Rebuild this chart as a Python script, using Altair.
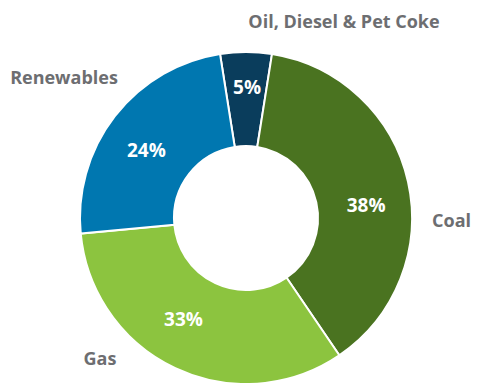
import math
import altair as alt
import pandas as pd

categories = ["Oil, Diesel & Pet Coke", "Coal", "Gas", "Renewables"]
shares = [5, 38, 33, 24]
pct_labels = ["5%", "38%", "33%", "24%"]
colors = ["#0a3d5c", "#4a7320", "#8cc43f", "#0077b0"]

df = pd.DataFrame({
    "category": categories,
    "share": shares,
    "label": pct_labels,
    "idx": list(range(len(categories))),
})

start = -0.157
theta_scale = alt.Scale(domain=[0, 100], range=[start, start + 2 * math.pi])
cx, cy = 238, 210

arcs = alt.Chart(df).mark_arc(innerRadius=72, outerRadius=166, stroke="white", strokeWidth=2,
                              x=cx, y=cy).encode(
    theta=alt.Theta("share:Q", stack=True, scale=theta_scale),
    order=alt.Order("idx:Q"),
    color=alt.Color("category:N", scale=alt.Scale(domain=categories, range=colors), legend=None),
)

# label nudges (dx, dy) per slice, to follow the reference placement
nudges = [(1, -9), (2, 14), (-11, -7), (-4, 7)]
pct_layers = [
    alt.Chart(df)
    .transform_window(cum="sum(share)", sort=[alt.SortField("idx")])
    .transform_calculate(mid="datum.cum - datum.share / 2")
    .transform_filter(alt.datum.idx == i)
    .mark_text(radius=121, x=cx, y=cy, dx=ndx, dy=ndy, font="Open Sans", fontWeight="bold",
               fontSize=19, color="white", baseline="middle", align="center")
    .encode(theta=alt.Theta("mid:Q", scale=theta_scale, stack=None), text="label:N")
    for i, (ndx, ndy) in enumerate(nudges)
]

gray = "#6d6e71"
annot_specs = [
    ("Oil, Diesel & Pet Coke", 336, 15, "center"),
    ("Renewables", 56, 71, "center"),
    ("Coal", 463, 214, "right"),
    ("Gas", 92, 352, "center"),
]
annots = [
    alt.Chart(df).mark_text(font="Open Sans", fontWeight="bold", fontSize=18, color=gray,
                            align=al, baseline="middle").encode(
        x=alt.value(x), y=alt.value(y), text=alt.value(t)
    ).transform_filter(alt.datum.idx == 0)
    for t, x, y, al in annot_specs
]

chart = alt.layer(arcs, *pct_layers, *annots).properties(
    width=463, height=375, padding=0, autosize="none"
).configure_view(stroke=None)

chart.save("out.html", embed_options={"renderer": "svg", "actions": False})
